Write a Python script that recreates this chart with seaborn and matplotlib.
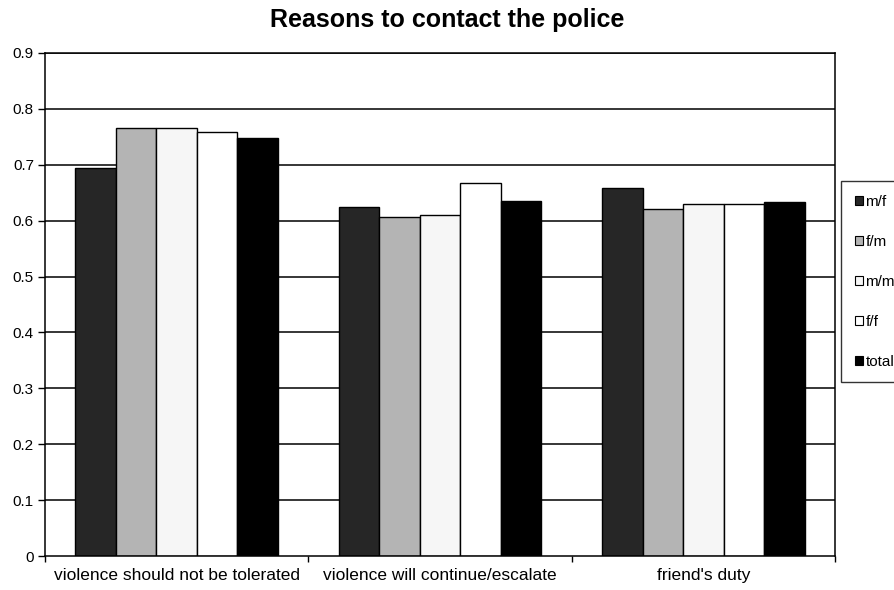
import matplotlib
matplotlib.use("Agg")
import matplotlib.pyplot as plt
import seaborn as sns
import pandas as pd
from matplotlib.patches import Patch

categories = ["violence should not be tolerated",
              "violence will continue/escalate",
              "friend's duty"]
groups = ["m/f", "f/m", "m/m", "f/f", "total"]
mf = [0.695, 0.624, 0.658]
fm = [0.766, 0.606, 0.620]
mm = [0.766, 0.611, 0.630]
ff = [0.759, 0.667, 0.629]
total = [0.748, 0.635, 0.633]
y_ticks = [0, 0.1, 0.2, 0.3, 0.4, 0.5, 0.6, 0.7, 0.8, 0.9]
y_tick_labels = ["0", "0.1", "0.2", "0.3", "0.4", "0.5", "0.6", "0.7", "0.8", "0.9"]

series = {"m/f": mf, "f/m": fm, "m/m": mm, "f/f": ff, "total": total}
rows = []
for g in groups:
    for c, v in zip(categories, series[g]):
        rows.append({"reason": c, "group": g, "share": v})
df = pd.DataFrame(rows)

colors = {"m/f": "#262626", "f/m": "#b4b4b4", "m/m": "#f6f6f6",
          "f/f": "#ffffff", "total": "#000000"}

sns.set_theme(style="white")
plt.rcParams["font.family"] = ["Liberation Sans", "DejaVu Sans"]
plt.rcParams["text.color"] = "black"
plt.rcParams["xtick.color"] = "black"
plt.rcParams["ytick.color"] = "black"
plt.rcParams["axes.labelcolor"] = "black"

fig = plt.figure(figsize=(8.94, 5.90), dpi=100)
ax = fig.add_axes([45 / 894, 1 - 556 / 590, (835 - 45) / 894, (556 - 53) / 590])

sns.barplot(data=df, x="reason", y="share", hue="group", hue_order=groups,
            order=categories, palette=colors, width=0.77, saturation=1,
            edgecolor="black", linewidth=1.0, errorbar=None, legend=False, ax=ax)

ax.set_ylim(0, 0.9)
ax.set_xlim(-0.5, 2.5)
ax.set_yticks(y_ticks)
ax.set_yticklabels(y_tick_labels, fontsize=11)
ax.set_xlabel("")
ax.set_ylabel("")

# horizontal gridlines behind the bars
ax.set_axisbelow(True)
for t in y_ticks[1:]:
    ax.axhline(t, color="black", linewidth=1.1, zorder=0)

# category labels centred under each group, boundary ticks between them
ax.set_xticks([-0.5, 0.5, 1.5, 2.5])
ax.set_xticklabels([])
ax.tick_params(axis="x", direction="out", length=4, width=1, color="black", bottom=True)
ax.tick_params(axis="y", direction="out", length=5, width=1, color="black", left=True, pad=3)
for i, c in enumerate(categories):
    ax.text(i, -0.022, c, ha="center", va="top", fontsize=12.5, color="black")

for side in ["left", "bottom", "right", "top"]:
    ax.spines[side].set_visible(True)
    ax.spines[side].set_color("black")
    ax.spines[side].set_linewidth(1.1)

fig.text(0.5, 1 - 20 / 590, "Reasons to contact the police", ha="center", va="center",
         fontsize=18, fontweight="bold", color="black")

handles = [Patch(facecolor=colors[g], edgecolor="black", linewidth=0.8, label=g) for g in groups]
leg = fig.legend(handles=handles, loc="upper left",
                 bbox_to_anchor=(841 / 894, 1 - 181 / 590), bbox_transform=fig.transFigure,
                 fontsize=11, frameon=True, fancybox=False, edgecolor="black",
                 handlelength=0.55, handleheight=0.55, handletextpad=0.15,
                 labelspacing=1.7, borderpad=0.9, borderaxespad=0)
leg.get_frame().set_linewidth(1.0)

fig.savefig("out.png", dpi=100)
